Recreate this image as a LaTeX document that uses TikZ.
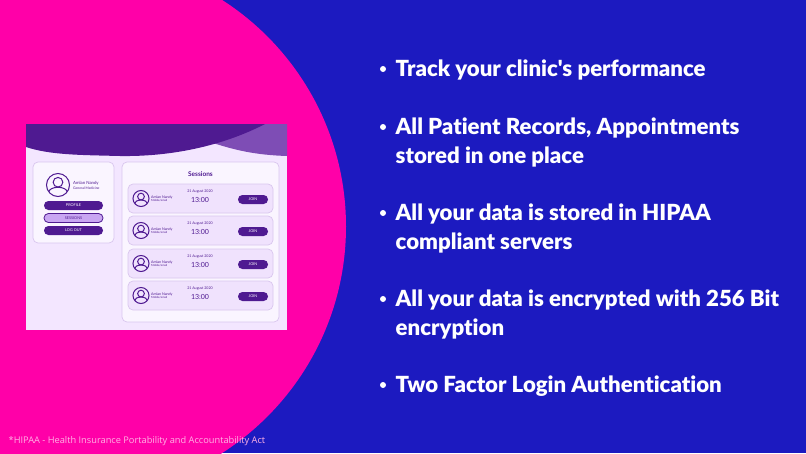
\documentclass[tikz,border=0pt]{standalone}
\usepackage{fontspec}
\setmainfont{Lato}[Ligatures={NoCommon}]
\newfontfamily\heavyfont{Lato Black}[Ligatures={NoCommon}]
\newfontfamily\notefont{Open Sans}
\definecolor{bgblue}{HTML}{1C1AC0}
\definecolor{bgpink}{HTML}{FF00A8}
\definecolor{appbg}{HTML}{F3E6FF}
\definecolor{appdark}{HTML}{4F1A91}
\definecolor{applight}{HTML}{7E4DB5}
\definecolor{appedge}{HTML}{D9C6EE}
\definecolor{appmid}{HTML}{C9A6F2}
\definecolor{rowbg}{HTML}{F0E2FD}
\tikzset{
  bullettext/.style={anchor=base west,text=white,font=\heavyfont\fontsize{22.2}{22.2}\selectfont},
  cardbox/.style={draw=appedge,line width=0.7pt,fill=#1,rounded corners=5pt},
  pillbtn/.style={rounded corners=4.4pt,fill=appdark},
  tinytext/.style={text=appdark,inner sep=0pt,font=\fontsize{#1}{#1}\selectfont},
  avatarline/.style={draw=appdark,line width=1pt}
}
\newcommand{\avatar}[3]{% x, y, radius
  \draw[avatarline] (#1,#2) circle(#3);
  \draw[avatarline] (#1,#2-0.24*#3) circle(0.42*#3);
  \begin{scope}
    \clip (#1,#2) circle(#3);
    \draw[avatarline] (#1,#2+0.62*#3) ellipse(0.8*#3 and 0.42*#3);
  \end{scope}
}
\begin{document}
\begin{tikzpicture}[x=1pt,y=-1pt]
  \useasboundingbox (0,0) rectangle (806,453);
  \fill[bgblue] (0,0) rectangle (806,453);
  \begin{scope}
    \clip (0,0) rectangle (806,453);
    \fill[bgpink] (77,226.5) circle(269);
  \end{scope}
  % app window
  \fill[appbg] (26,124) rectangle (287,330);
  \fill[applight] (205,124) -- (287,124) -- (287,156) .. controls (255,155) and (235,150) .. (213,143) -- cycle;
  \fill[appdark] (26,124) -- (265,124) .. controls (240,137) and (190,157) .. (120,156) .. controls (80,155) and (50,155) .. (26,147) -- cycle;
  % profile card
  \draw[cardbox=white!60!appbg] (33,162) rectangle (114,243);
  \avatar{58}{185}{11.5}
  \node[tinytext=4.3,anchor=west] (profilename) at (73,183) {Amlan Nandy};
  \node[tinytext=3.4,anchor=west] (profilejob) at (73,188.5) {General Medicine};
  \fill[pillbtn] (44,201) rectangle (103,210);
  \node[tinytext=3.8,text=white] (profilebtn) at (73.5,205.5) {PROFILE};
  \draw[pillbtn,fill=appmid,draw=appdark,line width=0.8pt] (44,213.5) rectangle (103,222.5);
  \node[tinytext=3.8] (sessionsbtn) at (73.5,218) {SESSIONS};
  \fill[pillbtn] (44,226) rectangle (103,235);
  \node[tinytext=3.8,text=white] (logoutbtn) at (73.5,230.5) {LOG OUT};
  % sessions card
  \draw[cardbox=white!60!appbg] (122,162) rectangle (279,322);
  \node[tinytext=6.5,font=\fontsize{6.5}{6.5}\selectfont\bfseries] (sessionstitle) at (200.5,174) {Sessions};
  \foreach \y [count=\n] in {184,216,249,281}{
    \draw[cardbox=rowbg] (128,\y) rectangle (273,\y+29);
    \avatar{141}{\y+14.5}{8}
    \node[tinytext=3.6,anchor=west] (name\n) at (151,\y+13) {Amlan Nandy};
    \node[tinytext=2.8,anchor=west] (mail\n) at (151,\y+17) {Mobile/email};
    \node[tinytext=3.6] (date\n) at (200,\y+8) {21 August 2020};
    \node[tinytext=7] (time\n) at (200,\y+15.5) {13:00};
    \fill[pillbtn] (238,\y+11) rectangle (268,\y+20);
    \node[tinytext=3.8,text=white] (join\n) at (253,\y+15.5) {JOIN};
  }
  % bullet list
  \foreach \y/\txt [count=\n] in {76/{Track your clinic\symbol{39}s performance},134/{All Patient Records, Appointments},163/stored in one place,220/All your data is stored in HIPAA,249/compliant servers,306/All your data is encrypted with 256 Bit,335/encryption,392/Two Factor Login Authentication}{
    \node[bullettext,inner sep=0pt] (line\n) at (395.5,\y) {\txt};
  }
  \foreach \y in {69,127,213,299,385}{
    \fill[white] (383,\y) circle(3);
  }
  % footnote
  \node[anchor=base west,inner sep=0pt,text=white!70!bgpink,font=\notefont\fontsize{9.25}{9.25}\selectfont] (hipaanote) at (8.5,443) {*HIPAA - Health Insurance Portability and Accountability Act};
\end{tikzpicture}
\end{document}
